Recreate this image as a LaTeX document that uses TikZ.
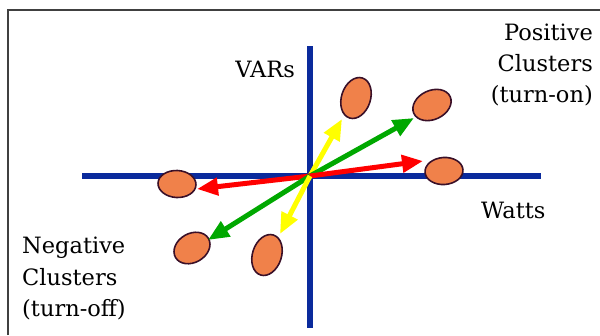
\documentclass[tikz,border=0pt]{standalone}
\usepackage{fontspec}
\setmainfont{DejaVu Serif}
\usetikzlibrary{arrows.meta,shapes.geometric}
\definecolor{axisblue}{HTML}{0A2A9C}
\definecolor{clfill}{HTML}{F0814A}
\definecolor{cldraw}{HTML}{3A1028}
\definecolor{arrgreen}{HTML}{00A800}
\definecolor{arryellow}{HTML}{FFFF00}
\definecolor{arrred}{HTML}{FF0000}
\tikzset{
  cluster/.style={ellipse, draw=cldraw, line width=1.6pt, fill=clfill, inner sep=0pt},
  vec/.style={line width=5pt, -{Triangle[length=21pt,width=17pt]}},
  axis/.style={axisblue, line width=6.5pt},
  lbl/.style={font=\fontsize{22.5}{27}\selectfont, inner sep=0pt},
  frameline/.style={draw=black!75, line width=1.3pt}
}
\begin{document}
\begin{tikzpicture}[x=1pt,y=-1pt]
\useasboundingbox (0,0) rectangle (600,335);
\draw[frameline] (8,335) -- (8,10) -- (600,10);
% axes
\draw[axis] (82,176) -- (541,176);
\draw[axis] (310,46) -- (310,328);
\coordinate (o) at (310,176);
% clusters
\node[cluster, minimum width=42pt, minimum height=29pt, rotate=72] (ty) at (356,98) {};
\node[cluster, minimum width=40pt, minimum height=29pt, rotate=25] (tg) at (432,105) {};
\node[cluster, minimum width=38pt, minimum height=27pt, rotate=4] (rr) at (444,171) {};
\node[cluster, minimum width=38pt, minimum height=27pt, rotate=-3] (lr) at (177,184) {};
\node[cluster, minimum width=38pt, minimum height=29pt, rotate=30] (bg) at (192,248) {};
\node[cluster, minimum width=42pt, minimum height=29pt, rotate=72] (by) at (267,255) {};
% arrow tips
\coordinate (tyt) at (342,119);
\coordinate (tgt) at (414,118);
\coordinate (rrt) at (423,161);
\coordinate (lrt) at (197,189);
\coordinate (bgt) at (208,240);
\coordinate (byt) at (280,234);
% vectors
\draw[vec, arryellow] (o) -- (tyt);
\draw[vec, arrgreen] (o) -- (tgt);
\draw[vec, arrred] (o) -- (rrt);
\draw[vec, arrred] (o) -- (lrt);
\draw[vec, arrgreen] (o) -- (bgt);
\draw[vec, arryellow] (o) -- (byt);
% labels
\node[lbl, anchor=base east] (vars) at (295,77) {VARs};
\node[lbl, anchor=base west] (watts) at (481,218) {Watts};
\node[lbl, anchor=base east] (p1) at (593,40) {Positive};
\node[lbl, anchor=base east] (p2) at (593,71) {Clusters};
\node[lbl, anchor=base east] (p3) at (593,102) {(turn-on)};
\node[lbl, anchor=base west] (n1) at (22,253) {Negative};
\node[lbl, anchor=base west] (n2) at (22,285) {Clusters};
\node[lbl, anchor=base west] (n3) at (22,316) {(turn-off)};
\end{tikzpicture}
\end{document}
